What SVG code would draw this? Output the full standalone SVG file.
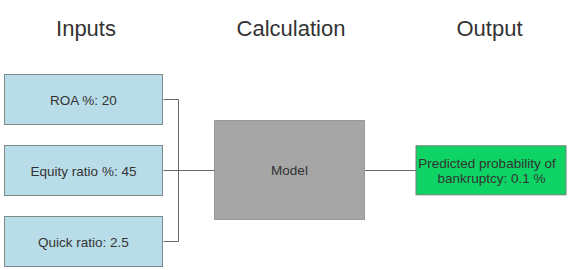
<svg xmlns="http://www.w3.org/2000/svg" width="572" height="270" viewBox="0 0 572 270">
<style>
text{font-family:"Liberation Sans",Arial,sans-serif;fill:#333;text-anchor:middle}
.title{font-size:22px}
.lbl{font-size:13.5px}
.in{fill:#b9dde8;stroke:#7f8a8d;stroke-width:1}
.model{fill:#a6a6a6;stroke:#999;stroke-width:1}
.out{fill:#0ed465;stroke:#6f7f73;stroke-width:1}
.conn{fill:none;stroke:#666;stroke-width:1}
</style>
<rect width="572" height="270" fill="#fff"/>
<g id="titles">
<text class="title" x="86" y="36">Inputs</text>
<text class="title" x="291" y="36">Calculation</text>
<text class="title" x="489.5" y="36">Output</text>
</g>
<g id="connectors">
<path class="conn" d="M163.5 99.5H178.5V241.5H163.5"/>
<path class="conn" d="M163.5 170.5H214"/>
<path class="conn" d="M364.5 170.5H416"/>
</g>
<g id="roa">
<rect class="in" x="4.5" y="74.5" width="158" height="50"/>
<text class="lbl" x="83.5" y="104.5">ROA %: 20</text>
</g>
<g id="equity">
<rect class="in" x="4.5" y="145.5" width="158" height="50"/>
<text class="lbl" x="83.5" y="175.5">Equity ratio %: 45</text>
</g>
<g id="quick">
<rect class="in" x="4.5" y="216.5" width="158" height="50"/>
<text class="lbl" x="83.5" y="246.5">Quick ratio: 2.5</text>
</g>
<g id="model">
<rect class="model" x="214.5" y="120.5" width="150" height="99"/>
<text class="lbl" x="289.5" y="174.5">Model</text>
</g>
<g id="output">
<rect class="out" x="416" y="145.8" width="150" height="49"/>
<text class="lbl" x="487" y="168">Predicted probability of</text>
<text class="lbl" x="491.5" y="183">bankruptcy: 0.1 %</text>
</g>
</svg>
